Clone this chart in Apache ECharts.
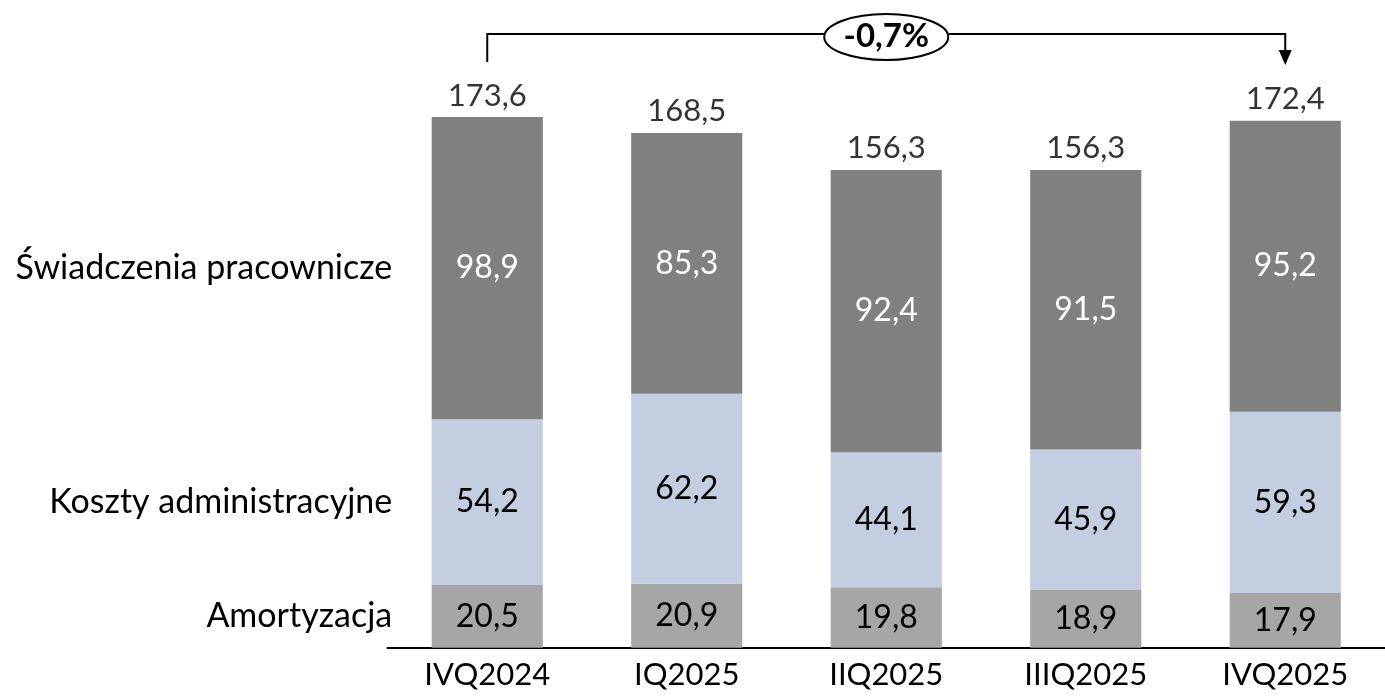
<!DOCTYPE html>
<html>
<head>
<meta charset="utf-8">
<script src="https://cdn.jsdelivr.net/npm/echarts@6/dist/echarts.min.js"></script>
<style>
html,body{margin:0;padding:0;background:#fff;}
#chart{width:1385px;height:696px;}
</style>
</head>
<body>
<div id="chart"></div>
<script>
const categories = ['IVQ2024', 'IQ2025', 'IIQ2025', 'IIIQ2025', 'IVQ2025'];
const seriesNames = ['Amortyzacja', 'Koszty administracyjne', 'Świadczenia pracownicze'];
const amortyzacja = [20.5, 20.9, 19.8, 18.9, 17.9];
const koszty = [54.2, 62.2, 44.1, 45.9, 59.3];
const swiadczenia = [98.9, 85.3, 92.4, 91.5, 95.2];
const totals = [173.6, 168.5, 156.3, 156.3, 172.4];
const changeLabel = '-0,7%';

const FONT = 'Lato';
const fmt = v => v.toFixed(1).replace('.', ',');
const colors = ['#A6A6A6', '#C3CEE1', '#808080'];
const labelColors = ['#000', '#000', '#fff'];
const segData = [amortyzacja, koszty, swiadczenia];

const chart = echarts.init(document.getElementById('chart'), null, {renderer: 'canvas'});

const series = segData.map((d, i) => ({
  name: seriesNames[i],
  type: 'bar',
  stack: 'total',
  barWidth: '55.7%',
  data: d,
  itemStyle: {color: colors[i]},
  label: {
    show: true,
    position: 'inside',
    color: labelColors[i],
    fontFamily: FONT,
    fontSize: 32,
    formatter: p => fmt(p.value)
  },
  emphasis: {disabled: true}
}));

series.push({
  name: 'Suma',
  type: 'scatter',
  data: totals,
  symbolSize: 0,
  label: {
    show: true,
    position: 'top',
    distance: 6,
    color: '#000',
    fontFamily: FONT,
    fontSize: 31,
    formatter: p => fmt(p.value)
  },
  emphasis: {disabled: true}
});

chart.setOption({
  animation: false,
  grid: {left: 387.5, right: -7.5, top: 36.3, bottom: 48.3},
  xAxis: {
    type: 'category',
    data: categories,
    axisTick: {show: false},
    axisLine: {lineStyle: {color: '#000', width: 2}},
    axisLabel: {color: '#000', fontFamily: FONT, fontSize: 31, margin: 12}
  },
  yAxis: {
    type: 'value',
    min: 0, max: 200,
    show: false,
    splitLine: {show: false}
  },
  series: series
});

// annotations placed via the chart's own coordinate system
const g = [];
let cum = 0;
segData.forEach((d, i) => {
  const mid = cum + d[0] / 2;
  cum += d[0];
  const p = chart.convertToPixel({gridIndex: 0}, [0, mid]);
  g.push({
    type: 'text',
    x: p[0] - 95, y: p[1],
    style: {text: seriesNames[i], fontFamily: FONT, fontSize: 34, fill: '#000', align: 'right', verticalAlign: 'middle'}
  });
});

const pA = chart.convertToPixel({gridIndex: 0}, [0, totals[0]]);
const pB = chart.convertToPixel({gridIndex: 0}, [categories.length - 1, totals[totals.length - 1]]);
const lineY = 34;
const midX = (pA[0] + pB[0]) / 2;
const ex = 62, ey = 23;
g.push({type: 'polyline', shape: {points: [[pA[0], 62], [pA[0], lineY], [midX - ex, lineY]]}, style: {stroke: '#000', lineWidth: 2, fill: null}});
g.push({type: 'polyline', shape: {points: [[midX + ex, lineY], [pB[0], lineY], [pB[0], 52]]}, style: {stroke: '#000', lineWidth: 2, fill: null}});
g.push({type: 'polygon', shape: {points: [[pB[0] - 6.5, 50], [pB[0] + 6.5, 50], [pB[0], 65]]}, style: {fill: '#000'}});
g.push({type: 'ellipse', shape: {cx: midX, cy: 37, rx: ex, ry: ey}, style: {stroke: '#000', lineWidth: 2, fill: '#fff'}});
g.push({type: 'text', x: midX, y: 36, style: {text: changeLabel, fontFamily: FONT, fontWeight: 'bold', fontSize: 33, fill: '#000', align: 'center', verticalAlign: 'middle'}});

chart.setOption({graphic: g});
</script>
</body>
</html>
